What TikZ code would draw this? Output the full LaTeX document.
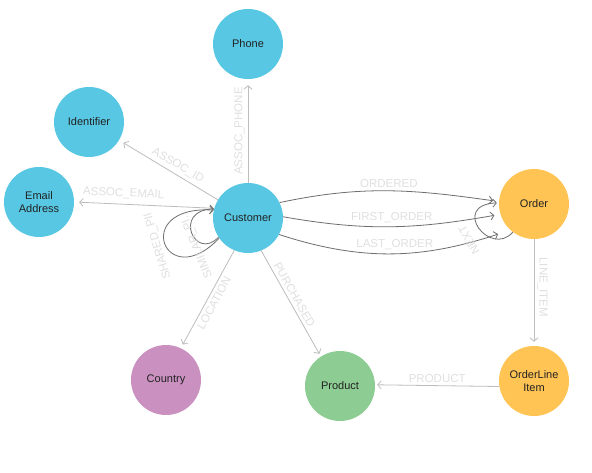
\documentclass[tikz,border=0pt]{standalone}
\usepackage{fontspec}
\setmainfont{Liberation Sans}
\usetikzlibrary{arrows.meta}
\definecolor{nblue}{HTML}{57C7E3}
\definecolor{norange}{HTML}{FFC454}
\definecolor{ngreen}{HTML}{8DCC93}
\definecolor{npurple}{HTML}{C990C0}
\definecolor{edgelight}{HTML}{BDBDBD}
\definecolor{edgedark}{HTML}{6E6E6E}
\definecolor{lbl}{HTML}{E0E0E0}
\definecolor{ntext}{HTML}{222222}
\begin{document}
\begin{tikzpicture}[x=1pt,y=1pt,
  gnode/.style={circle, minimum size=70pt, inner sep=0pt, draw=none, text=ntext,
    font=\fontsize{11}{13}\selectfont, align=center},
  tip/.style={-{Straight Barb[length=3.5pt,width=8pt]}},
  ledge/.style={draw=edgelight, line width=0.8pt, tip},
  dedge/.style={draw=edgedark, line width=0.8pt, tip},
  elabel/.style={text=lbl, font=\fontsize{11.5}{13}\selectfont, inner sep=3pt},
]
\useasboundingbox (0,0) rectangle (592,-472);
\fill[white] (0,0) rectangle (592,-472);

\node[gnode, fill=nblue]    (phone)   at (248,-44)  {Phone};
\node[gnode, fill=nblue]    (ident)   at (89,-122)  {Identifier};
\node[gnode, fill=nblue]    (email)   at (39,-202)  {Email\\Address};
\node[gnode, fill=nblue]    (cust)    at (248,-218) {Customer};
\node[gnode, fill=norange]  (order)   at (534,-204) {Order};
\node[gnode, fill=norange]  (ol)      at (534,-381) {OrderLine\\Item};
\node[gnode, fill=ngreen]   (prod)    at (340,-386) {Product};
\node[gnode, fill=npurple]  (country) at (166,-380) {Country};

% straight edges
\draw[ledge, shorten >=6pt] (cust.90) -- (phone.270)
  node[elabel, midway, rotate=90, above] {ASSOC\_PHONE};
\draw[ledge, shorten >=5pt] (cust) -- (ident)
  node[elabel, pos=.45, rotate=-31, above] {ASSOC\_ID};
\draw[ledge, shorten >=5pt] (cust.164) -- (email.0)
  node[elabel, pos=.65, rotate=-2.5, above=2pt] {ASSOC\_EMAIL};
\draw[ledge, shorten >=4pt] (cust.247) -- (country.65)
  node[elabel, midway, rotate=61.4, below] {LOCATION};
\draw[ledge, shorten >=3pt] (cust.292) -- (prod.123)
  node[elabel, pos=.45, rotate=-60.6, above] {PURCHASED};
\draw[ledge, shorten >=4pt] (order.270) -- (ol.90)
  node[elabel, pos=.45, rotate=-90, above] {LINE\_ITEM};
\draw[ledge, shorten >=2pt] (ol.189) -- (prod.2)
  node[elabel, midway, above] {PRODUCT};

% curved edges Customer -> Order
\draw[dedge, shorten >=6pt] (cust.26) to[out=12, in=172]
  node[elabel, midway, above] {ORDERED} (order.176);
\draw[dedge, shorten >=6pt] (cust.2) to[out=-10, in=190]
  node[elabel, midway, above] {FIRST\_ORDER} (order.197);
\draw[dedge, shorten >=13pt] (cust.-28) to[out=-18, in=198]
  node[elabel, midway, above] {LAST\_ORDER} (order.228);

% self loops
\draw[dedge] (cust.215) .. controls (165,-295) and (130,-205) .. (cust.167);
\draw[dedge] (cust.213) .. controls (195,-262) and (172,-210) .. (cust.165);
\draw[dedge, shorten >=2pt] (order.233) .. controls (490,-258) and (450,-205) .. (order.178);

\node[elabel, rotate=107] (lshared) at (158,-246) {SHARED\_PII};
\node[elabel, rotate=112] (lsimilar) at (196,-244) {SIMILAR\_PI...};
\node[elabel, rotate=120] (lnext) at (469,-240) {NEXT};
\end{tikzpicture}
\end{document}
